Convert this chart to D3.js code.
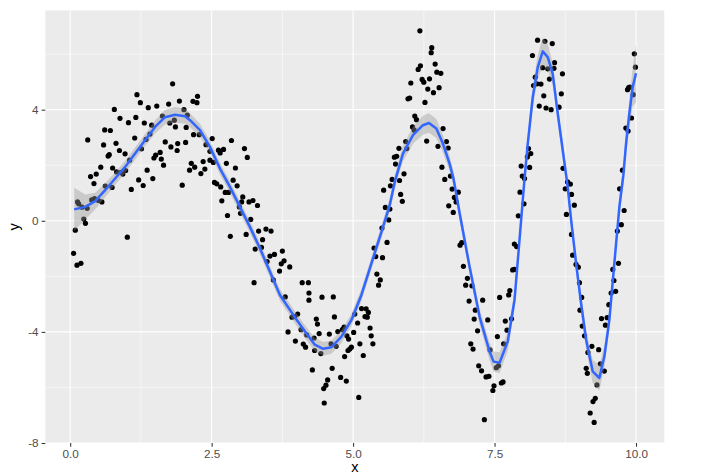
<!DOCTYPE html>
<html><head><meta charset="utf-8">
<script src="https://cdn.jsdelivr.net/npm/d3@7"></script>
<style>body{margin:0;background:#fff}svg{display:block}</style>
</head><body>
<svg id="c" width="704" height="476"></svg>
<script>
const pointX = [1.81,1.18,1.24,1.93,1.74,1.53,1.38,0.78,2.01,1.63,0.88,1.16,1.03,1.31,1.76,1.84,1.86,1.44,0.61,0.71,1.41,1.14,0.31,1.68,1.90,0.81,0.59,1.34,1.78,1.26,1.89,0.87,0.97,0.69,0.67,1.51,1.59,1.48,1.61,1.05,1.65,0.54,0.75,1.36,0.98,0.90,0.93,0.82,0.46,0.36,1.46,1.21,0.42,1.98,1.29,0.74,0.62,1.08,0.43,0.50,0.56,0.38,0.13,0.15,0.21,0.30,0.24,0.27,0.09,1.01,0.06,0.12,0.19,
2.25,2.17,2.24,2.07,2.05,2.18,2.28,2.51,2.85,2.04,2.40,3.08,2.62,2.71,2.47,2.65,3.13,2.47,2.35,2.53,2.76,2.14,2.20,2.38,2.92,2.11,2.31,2.88,2.55,2.59,2.95,2.66,2.74,2.80,3.05,3.03,3.16,3.23,3.31,2.68,2.99,3.01,2.78,3.19,3.33,3.46,3.55,3.11,2.83,3.40,3.38,3.27,3.53,3.61,3.75,3.48,3.78,3.73,3.88,3.70,3.59,3.25,4.10,4.21,3.80,4.22,
5.60,5.37,5.40,5.52,5.42,5.48,5.45,4.22,4.45,4.65,5.15,5.23,5.27,5.03,5.21,5.25,4.02,3.97,3.92,4.67,4.35,4.37,5.08,5.30,4.84,4.81,4.73,3.85,4.08,5.01,5.32,4.58,4.40,4.18,4.89,4.92,4.31,3.98,4.12,4.16,4.61,4.70,5.12,5.35,4.97,4.94,4.91,4.32,4.43,5.18,4.85,4.63,4.28,4.55,4.78,4.88,4.52,4.48,5.10,4.49,
6.18,6.39,6.38,6.45,6.19,6.15,6.48,6.55,6.22,6.35,6.25,6.02,6.52,6.32,6.42,6.00,5.97,6.27,6.09,6.12,6.05,6.08,6.59,5.93,6.30,6.65,6.50,5.81,5.95,6.68,5.73,5.77,5.75,6.57,5.90,6.72,5.69,5.82,6.62,5.66,5.54,5.84,5.87,5.57,5.65,5.63,5.51,6.69,
6.75,6.86,6.79,6.82,6.77,6.92,6.89,6.95,7.02,6.99,7.10,7.05,7.29,7.16,7.14,7.38,7.20,7.08,7.12,7.42,7.22,7.27,7.35,7.40,7.49,7.47,7.32,7.55,7.53,7.57,7.62,7.65,7.66,7.69,7.80,7.72,7.59,7.75,7.77,7.82,7.85,7.85,7.89,7.92,7.95,8.02,7.99,8.03,
8.26,8.39,8.52,8.17,8.56,8.35,8.44,8.55,8.70,8.22,8.47,8.25,8.32,8.19,8.68,8.37,8.29,8.41,8.50,8.64,8.10,8.14,8.08,7.97,8.12,8.71,8.79,8.84,8.75,
8.86,8.91,8.77,9.76,9.71,9.79,9.74,9.67,8.86,8.88,8.94,8.98,9.69,9.59,9.61,9.00,9.64,9.56,9.04,9.52,9.01,9.39,9.49,9.46,9.05,9.09,9.22,9.34,9.15,9.37,9.12,9.44,9.14,9.31,9.28,9.24,9.19,9.26,
9.97,9.99,9.87,9.85,9.89,9.95,9.92,9.82,9.86];
const pointY = [4.93,4.54,4.25,4.31,4.20,4.13,4.07,4.01,4.00,3.77,3.69,3.72,3.53,3.52,3.52,3.62,3.38,3.44,3.27,3.25,3.12,2.98,2.91,2.84,2.78,2.79,2.73,2.93,2.66,2.59,2.53,2.53,2.41,2.38,2.33,2.36,2.46,2.26,2.22,2.18,2.00,1.93,1.90,1.82,1.81,1.74,1.68,1.76,1.68,1.59,1.52,1.47,1.34,1.28,1.27,1.20,1.25,1.13,0.80,0.73,0.68,0.75,0.68,0.61,0.49,0.45,0.06,-0.09,-0.34,-0.59,-1.17,-1.60,-1.53,
4.48,4.30,4.25,3.80,3.36,3.10,3.10,2.96,2.89,2.82,2.74,2.60,2.54,2.57,2.50,2.44,2.28,2.18,2.13,2.10,2.07,2.07,1.93,1.86,1.90,1.82,1.70,1.46,1.38,1.33,1.26,1.22,1.02,1.02,0.86,0.68,0.68,0.73,0.55,0.72,0.50,0.27,0.19,0.05,-0.37,-0.30,-0.37,-0.49,-0.56,-0.68,-0.96,-1.02,-1.27,-1.21,-1.09,-1.47,-1.44,-1.55,-1.66,-1.81,-2.13,-2.23,-2.23,-2.23,-2.74,-2.60,
-0.78,-0.98,-1.29,-1.33,-1.92,-2.13,-2.32,-2.86,-2.75,-2.74,-3.16,-3.17,-3.30,-3.36,-3.45,-3.47,-3.36,-3.45,-3.47,-3.46,-3.54,-3.72,-3.68,-3.86,-3.83,-3.92,-3.99,-4.00,-3.92,-4.02,-4.14,-4.08,-4.06,-4.11,-4.14,-4.26,-4.22,-4.33,-4.44,-4.55,-4.43,-4.52,-4.43,-4.43,-4.55,-4.62,-4.67,-4.67,-4.78,-4.85,-4.89,-5.31,-5.37,-5.73,-5.64,-5.77,-5.92,-6.04,-6.36,-6.56,
6.84,6.23,6.05,5.64,5.58,5.45,5.35,5.31,5.09,5.11,4.99,4.96,4.79,4.74,4.61,4.42,4.39,4.26,3.77,3.64,3.38,3.26,3.32,2.85,2.87,2.85,2.68,2.61,2.60,2.62,2.29,2.32,2.04,1.93,1.69,1.61,1.49,1.45,1.49,1.26,1.10,0.95,0.70,0.48,0.42,0.03,-0.26,0.54,
1.14,1.03,0.84,0.68,0.30,-0.79,-0.88,-1.64,-2.07,-2.32,-2.34,-2.89,-2.86,-3.22,-3.54,-3.57,-3.96,-4.43,-4.62,-4.65,-5.22,-5.40,-5.62,-5.60,-5.94,-6.11,-7.16,-4.17,-5.29,-5.22,-5.84,-5.80,-4.43,-3.61,-3.53,-3.94,-2.76,-2.67,-2.51,-1.77,-1.75,-0.84,-0.93,0.18,1.03,0.61,1.61,1.52,
6.50,6.46,6.38,5.95,5.69,5.51,5.47,5.49,5.29,5.17,5.10,4.93,4.92,4.87,4.57,4.50,4.13,4.06,4.00,4.09,2.60,2.42,2.30,1.97,1.92,1.89,1.40,1.32,1.15,
0.95,0.56,0.23,1.82,1.15,0.37,-0.14,-0.37,-0.49,-1.24,-1.57,-1.67,-1.53,-1.75,-2.15,-2.23,-2.54,-2.60,-2.76,-3.02,-3.22,-3.52,-3.49,-3.76,-3.79,-4.14,-4.52,-4.64,-4.74,-5.15,-5.31,-5.41,-5.49,-5.91,-6.39,-6.51,-6.92,-7.26,
6.01,5.53,4.79,4.72,4.81,4.54,3.70,3.34,3.23];

const smoothX = [0.071,0.265,0.441,0.618,0.794,0.971,1.147,1.323,1.500,1.676,1.853,2.029,2.118,2.294,2.470,2.647,2.823,3.000,3.176,3.353,3.529,3.706,3.970,4.147,4.323,4.470,4.618,4.794,4.971,5.147,5.324,5.500,5.647,5.735,5.881,6.058,6.234,6.340,6.471,6.587,6.705,6.776,6.882,7.058,7.235,7.411,7.482,7.588,7.734,7.853,7.941,8.029,8.087,8.175,8.264,8.352,8.440,8.528,8.617,8.705,8.793,8.853,8.941,9.029,9.118,9.234,9.352,9.441,9.529,9.617,9.706,9.776,9.824,9.882,9.941,10.0];
const smoothY = [0.41,0.50,0.71,1.10,1.52,1.94,2.42,2.90,3.38,3.73,3.82,3.76,3.62,3.26,2.66,1.88,1.22,0.50,-0.22,-0.99,-1.83,-2.67,-3.47,-3.98,-4.46,-4.61,-4.55,-4.17,-3.57,-2.67,-1.53,-0.41,0.56,1.39,2.42,3.08,3.44,3.52,3.32,2.78,2.06,1.50,0.28,-1.65,-3.45,-4.70,-5.07,-5.11,-4.34,-2.85,-0.69,1.50,2.78,4.45,5.53,6.10,5.89,5.29,3.86,2.54,1.22,0.03,-1.53,-2.97,-4.28,-5.42,-5.66,-4.88,-3.57,-1.53,0.50,1.64,2.78,3.86,4.81,5.31];
const smoothSE = [0.78,0.45,0.30,0.25,0.22,0.22,0.22,0.22,0.24,0.26,0.28,0.27,0.25,0.23,0.22,0.21,0.21,0.21,0.21,0.21,0.21,0.21,0.22,0.23,0.24,0.25,0.24,0.23,0.22,0.22,0.22,0.23,0.24,0.26,0.28,0.31,0.34,0.35,0.34,0.31,0.28,0.27,0.26,0.26,0.28,0.32,0.36,0.38,0.34,0.30,0.29,0.30,0.33,0.38,0.45,0.50,0.47,0.40,0.33,0.30,0.29,0.29,0.30,0.31,0.35,0.42,0.45,0.40,0.34,0.32,0.33,0.36,0.40,0.50,0.70,1.05];

const xTicks = [0, 2.5, 5, 7.5, 10];
const xTickLabels = ["0.0", "2.5", "5.0", "7.5", "10.0"];
const xMinor = [1.25, 3.75, 6.25, 8.75];
const yTicks = [-8, -4, 0, 4];
const yTickLabels = ["-8", "-4", "0", "4"];
const yMinor = [-6, -2, 2, 6];

const svg = d3.select("#c");
const L = 45.3, R = 664.3, T = 10.5, B = 443;
const x = d3.scaleLinear().domain([-0.44, 10.5]).range([L, R]);
const y = d3.scaleLinear().domain([-8.0, 7.57]).range([B, T]);

svg.append("rect").attr("x", L).attr("y", T).attr("width", R - L).attr("height", B - T).attr("fill", "#EBEBEB");

const g = svg.append("g");
g.selectAll(".xmi").data(xMinor).join("line").attr("x1", d => x(d)).attr("x2", d => x(d)).attr("y1", T).attr("y2", B).attr("stroke", "#fff").attr("stroke-width", 0.55);
g.selectAll(".ymi").data(yMinor).join("line").attr("y1", d => y(d)).attr("y2", d => y(d)).attr("x1", L).attr("x2", R).attr("stroke", "#fff").attr("stroke-width", 0.55);
g.selectAll(".xma").data(xTicks).join("line").attr("x1", d => x(d)).attr("x2", d => x(d)).attr("y1", T).attr("y2", B).attr("stroke", "#fff").attr("stroke-width", 1.1);
g.selectAll(".yma").data(yTicks.filter(d => y(d) <= B)).join("line").attr("y1", d => y(d)).attr("y2", d => y(d)).attr("x1", L).attr("x2", R).attr("stroke", "#fff").attr("stroke-width", 1.1);

// points
svg.append("g").selectAll("circle").data(pointX.map((v, i) => [v, pointY[i]])).join("circle")
  .attr("cx", d => x(d[0])).attr("cy", d => y(d[1])).attr("r", 2.6).attr("fill", "#000");

// smooth
const sm = smoothX.map((v, i) => ({x: v, y: smoothY[i], se: smoothSE[i]}));
svg.append("path").datum(sm)
  .attr("d", d3.area().x(d => x(d.x)).y0(d => y(d.y - d.se)).y1(d => y(d.y + d.se)))
  .attr("fill", "#999999").attr("fill-opacity", 0.4);
svg.append("path").datum(sm)
  .attr("d", d3.line().x(d => x(d.x)).y(d => y(d.y)))
  .attr("fill", "none").attr("stroke", "#3366FF").attr("stroke-width", 2.5).attr("stroke-linejoin", "round");

// axes
const xAxis = d3.axisBottom(x).tickValues(xTicks).tickFormat((d, i) => xTickLabels[i]).tickSize(3.7).tickPadding(3);
const yAxis = d3.axisLeft(y).tickValues(yTicks).tickFormat((d, i) => yTickLabels[i]).tickSize(3.7).tickPadding(3);
const gx = svg.append("g").attr("transform", `translate(0,${B})`).call(xAxis);
const gy = svg.append("g").attr("transform", `translate(${L},0)`).call(yAxis);
[gx, gy].forEach(a => {
  a.select(".domain").remove();
  a.selectAll(".tick line").attr("stroke", "#333333").attr("stroke-width", 1.05);
  a.selectAll(".tick text").attr("fill", "#4D4D4D").attr("font-family", "Liberation Sans, Arial, sans-serif").attr("font-size", "11.7px");
});

svg.append("text").attr("x", (L + R) / 2).attr("y", 472).attr("text-anchor", "middle")
  .attr("font-family", "Liberation Sans, Arial, sans-serif").attr("font-size", "14.5px").attr("fill", "#000").text("x");
svg.append("text").attr("transform", `translate(19,${(T + B) / 2}) rotate(-90)`).attr("text-anchor", "middle")
  .attr("font-family", "Liberation Sans, Arial, sans-serif").attr("font-size", "14.5px").attr("fill", "#000").text("y");
</script>
</body></html>
